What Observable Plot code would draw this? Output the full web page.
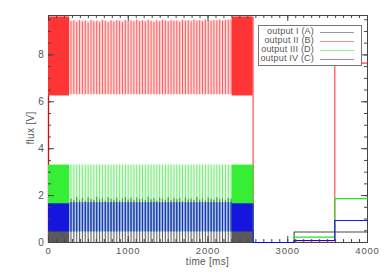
<!DOCTYPE html>
<html>
<head>
<meta charset="utf-8">
<script src="https://cdn.jsdelivr.net/npm/d3@7"></script>
<script src="https://cdn.jsdelivr.net/npm/@observablehq/plot@0.6"></script>
<style>
  html, body { margin: 0; padding: 0; background: #fff; }
  #wrap { position: relative; width: 382px; height: 273px; overflow: hidden; }
  #chart svg { display: block; }
  .xlabel { position: absolute; left: 0; width: 382px; top: 257px; padding-left: 33px; box-sizing: border-box; text-align: center;
            font: 10px "Liberation Sans", sans-serif; color: #555; letter-spacing: 0.3px; line-height: 10px; }
  .ylabel { position: absolute; left: 30px; top: 128px; transform: translate(-50%, -50%) rotate(-90deg);
            font: 10px "Liberation Sans", sans-serif; color: #555; white-space: nowrap; letter-spacing: 0.3px; }
  .legend { position: absolute; left: 258px; top: 25px; width: 102px; height: 39px; border: 1px solid #777; background: #fff; }
  .legend .row { position: absolute; left: 0; width: 100%; height: 9px; }
  .legend .lab { position: absolute; right: 47px; top: -1px; font: 9px "Liberation Sans", sans-serif; color: #555; white-space: nowrap; line-height: 10px; letter-spacing: 0.2px; }
  .legend .sw { position: absolute; left: 61px; width: 34px; top: 5px; height: 1px; }
</style>
</head>
<body>
<div id="wrap">
  <div id="chart"></div>
  <div class="xlabel">time [ms]</div>
  <div class="ylabel">flux [V]</div>
  <div class="legend" id="legend"></div>
</div>
<script>
// ---------------- data ----------------
const seriesNames = ["output I (A)", "output II (B)", "output III (D)", "output IV (C)"];

// oscillation strokes (time of each visible stroke, ms)
const pulseTimes = [282, 318, 354, 390, 425, 461, 497, 533, 569, 605, 641, 676, 712, 748, 784, 820, 856, 892, 927, 963,
  999, 1035, 1071, 1107, 1143, 1178, 1214, 1250, 1286, 1322, 1358, 1394, 1429, 1465, 1501, 1537, 1573, 1609, 1645, 1680,
  1716, 1752, 1788, 1824, 1860, 1896, 1931, 1967, 2003, 2039, 2075, 2111, 2147, 2182, 2218, 2254, 2290];
const peaksA = [1.85, 1.78, 1.92, 1.80, 1.88, 1.75, 1.90, 1.83, 1.79, 1.93, 1.82, 1.87, 1.76, 1.91, 1.84, 1.80, 1.89, 1.77, 1.86, 1.92,
  1.81, 1.88, 1.78, 1.90, 1.83, 1.85, 1.79, 1.93, 1.82, 1.87, 1.76, 1.89, 1.84, 1.80, 1.91, 1.78, 1.86, 1.83, 1.88, 1.75,
  1.90, 1.82, 1.85, 1.79, 1.92, 1.81, 1.87, 1.77, 1.89, 1.84, 1.80, 1.91, 1.83, 1.86, 1.78, 1.88, 1.85];
const peaksB = [9.42, 9.45, 9.38, 9.47, 9.40, 9.44, 9.36, 9.46, 9.41, 9.43, 9.39, 9.48, 9.42, 9.37, 9.45, 9.40, 9.46, 9.43, 9.38, 9.47,
  9.41, 9.44, 9.39, 9.50, 9.42, 9.45, 9.40, 9.48, 9.43, 9.38, 9.46, 9.41, 9.49, 9.44, 9.40, 9.47, 9.42, 9.45, 9.39, 9.48,
  9.43, 9.46, 9.41, 9.50, 9.44, 9.47, 9.42, 9.49, 9.45, 9.43, 9.48, 9.46, 9.50, 9.44, 9.47, 9.49, 9.52];
const peakD = 3.3;
const peakC = 1.7;
const oscLow = [0, 6.3, 0.45, 0.45];          // A, B, D, C
const oscBandHigh = [1.85, 9.45, 3.3, 1.7];

// dense (unresolved) oscillation blocks
const denseStart = [0, 2305];
const denseEnd = [265, 2565];
const denseLow = [0, 6.25, 1.62, 0.45];
const denseHigh = [0.5, 9.62, 3.3, 1.65];

// stepped tail
const stepTimes = [2565, 2565, 3080, 3590, 4000];
const stepA = [0.5, 0, 0.45, 0.45, 0.45];
const stepB = [9.62, 0, 0.08, 7.65, 7.65];
const stepD = [3.3, 0, 0.23, 1.87, 1.87];
const stepC = [1.65, 0, 0.085, 0.94, 0.94];
const startTimes = [0, 0];
const startB = [0, 6.25];

const xTicks = [0, 1000, 2000, 3000, 4000];
const yTicks = [0, 2, 4, 6, 8];

// ---------------- styles ----------------
const col = { A: "#333333", B: "#ff0000", D: "#11e011", C: "#0000ff" };
const denseCol = { A: "#5a5a5a", B: "#ff3434", D: "#35ee35", C: "#1515dd" };
const legendCol = ["#9a9a9a", "#ff8a8a", "#8aee8a", "#8a8aff"];
const keys = ["A", "B", "D", "C"];

// ---------------- build tables ----------------
const peaksFor = { A: peaksA, B: peaksB, D: pulseTimes.map(() => peakD), C: pulseTimes.map(() => peakC) };
const pulses = k => pulseTimes.map((t, i) => ({ t, lo: oscLow[keys.indexOf(k)], hi: peaksFor[k][i] }));
const band = k => [{ x1: denseEnd[0], x2: denseStart[1], lo: oscLow[keys.indexOf(k)], hi: oscBandHigh[keys.indexOf(k)] }];
const dense = k => denseStart.map((s, i) => ({ x1: s, x2: denseEnd[i], lo: denseLow[keys.indexOf(k)], hi: denseHigh[keys.indexOf(k)] }));
const stepsFor = { A: stepA, B: stepB, D: stepD, C: stepC };
const steps = k => stepTimes.map((t, i) => ({ t, v: stepsFor[k][i] }));

const hazeOpacity = { A: 0.04, B: 0.14, D: 0.1, C: 0.22 };
const strokeOpacity = { A: 0.8, B: 0.6, D: 0.55, C: 0.65 };

function seriesMarks(k) {
  return [
    Plot.rect(band(k), { x1: "x1", x2: "x2", y1: "lo", y2: "hi", fill: col[k], fillOpacity: hazeOpacity[k] }),
    Plot.ruleX(pulses(k), { x: "t", y1: "lo", y2: "hi", stroke: col[k], strokeOpacity: strokeOpacity[k], strokeWidth: 1 }),
    Plot.rect(dense(k), { x1: "x1", x2: "x2", y1: "lo", y2: "hi", fill: denseCol[k] }),
    Plot.line(steps(k), { x: "t", y: "v", curve: "step-after", stroke: col[k], strokeWidth: 1.1, strokeOpacity: k === "B" ? 0.75 : 0.9 })
  ];
}

const axisCol = "#444";
const frameW = 382 - 48 - 15, frameH = 273 - 15 - 31;
const xMinor = d3.range(0, 4001, 100);
const yMinor = d3.range(0, 9.7, 0.5);

const chart = Plot.plot({
  width: 382, height: 273,
  marginLeft: 48, marginRight: 15, marginTop: 15, marginBottom: 31,
  x: { domain: [0, 4000] },
  y: { domain: [0, 9.68] },
  style: { fontFamily: "Liberation Sans, sans-serif", fontSize: "10px", color: "#555", background: "#fff" },
  marks: [
    Plot.frame({ stroke: axisCol, strokeWidth: 1 }),
    Plot.line(startTimes.map((t, i) => ({ t, v: startB[i] })), { x: "t", y: "v", stroke: col.B, strokeOpacity: 0.7 }),
    ...seriesMarks("A"),
    ...seriesMarks("B"),
    ...seriesMarks("D"),
    ...seriesMarks("C"),
    // inward ticks on all four sides
    Plot.tickX(xTicks, { x: d => d, stroke: axisCol, insetTop: frameH - 6 }),
    Plot.tickX(xTicks, { x: d => d, stroke: axisCol, insetBottom: frameH - 6 }),
    Plot.tickX(xMinor, { x: d => d, stroke: axisCol, insetTop: frameH - 3 }),
    Plot.tickX(xMinor, { x: d => d, stroke: axisCol, insetBottom: frameH - 3 }),
    Plot.tickY(yTicks, { y: d => d, stroke: axisCol, insetRight: frameW - 6 }),
    Plot.tickY(yTicks, { y: d => d, stroke: axisCol, insetLeft: frameW - 6 }),
    Plot.tickY(yMinor, { y: d => d, stroke: axisCol, insetRight: frameW - 3 }),
    Plot.tickY(yMinor, { y: d => d, stroke: axisCol, insetLeft: frameW - 3 }),
    Plot.axisX({ ticks: xTicks, tickSize: 0, tickPadding: 5, fontSize: 9.5, tickFormat: d3.format("d"), label: null, fill: "#555" }),
    Plot.axisY({ ticks: yTicks, tickSize: 0, tickPadding: 4, tickFormat: d3.format("d"), label: null, fill: "#555" })
  ]
});
chart.style.letterSpacing = "0.8px";
document.getElementById("chart").appendChild(chart);

// legend
const legend = document.getElementById("legend");
seriesNames.forEach((name, i) => {
  const row = document.createElement("div");
  row.className = "row";
  row.style.top = (1 + 9 * i) + "px";
  const lab = document.createElement("span");
  lab.className = "lab";
  lab.textContent = name;
  const sw = document.createElement("span");
  sw.className = "sw";
  sw.style.background = legendCol[i];
  row.appendChild(lab);
  row.appendChild(sw);
  legend.appendChild(row);
});
</script>
</body>
</html>
